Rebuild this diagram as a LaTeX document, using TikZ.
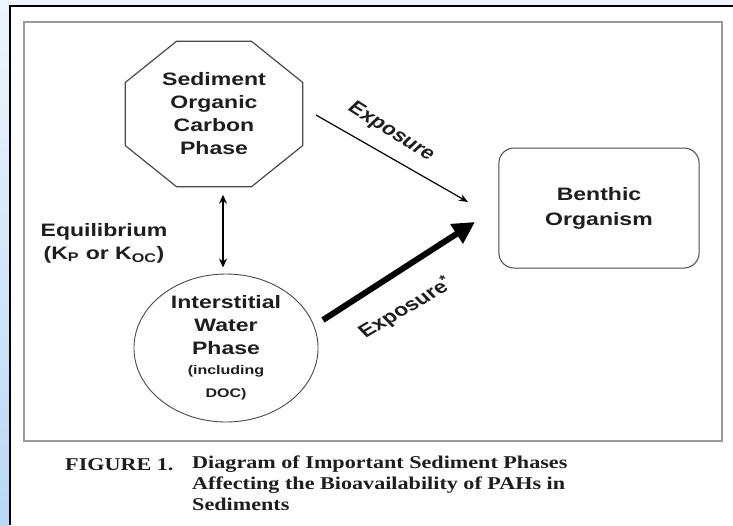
\documentclass[tikz,border=0pt]{standalone}
\usepackage{fontspec}
\usetikzlibrary{arrows.meta,shapes.geometric}
\setmainfont{Liberation Serif}
\newfontfamily\diagfont{Liberation Sans Bold}
\newfontfamily\capfont{Liberation Serif Bold}
\definecolor{bgblue}{HTML}{EEF5FC}
\definecolor{stripblue}{HTML}{B9D8F7}
\definecolor{framegray}{HTML}{9A9A9A}
\definecolor{inkgray}{HTML}{1E1E1E}
\definecolor{shapegray}{HTML}{4A4A4A}

\begin{document}
\begin{tikzpicture}[x=1pt,y=1pt]
\tikzstyle{every node}+=[inner sep=0pt, text=inkgray, xscale=1.28, font=\diagfont\fontsize{18}{23}\selectfont]
\tikzstyle{phase}=[draw=shapegray, line width=1.2pt, align=center]
\tikzstyle{captext}=[xscale=0.961, font=\capfont\fontsize{18}{21}\selectfont]
\useasboundingbox (0,0) rectangle (733,-525);
% page background and frames
\fill [bgblue] (0,0) rectangle (733,-525);
\shade [top color=bgblue, bottom color=stripblue] (0,-6) rectangle (9,-525);
\fill [white] (10,-6) rectangle (733,-525);
\draw [black, line width=2pt] (10,-525) -- (10,-6) -- (733,-6);
\draw [framegray, line width=2.5pt] (24,-22) rectangle (722,-441);
% phases
\node (sed) [align=center, minimum width=138.3pt, minimum height=145pt] at (214,-114)
  {Sediment\\Organic\\Carbon\\Phase};
\draw [draw=shapegray, line width=1.2pt]
  ([xshift=-37.5pt]sed.north) -- ([xshift=37.5pt]sed.north) --
  ([yshift=31.5pt]sed.east) -- ([yshift=-31.5pt]sed.east) --
  ([xshift=37.5pt]sed.south) -- ([xshift=-37.5pt]sed.south) --
  ([yshift=-31.5pt]sed.west) -- ([yshift=31.5pt]sed.west) -- cycle;
\node (iw) [phase, ellipse, line width=0.9pt, minimum width=143.8pt, minimum height=148pt] at (226,-348)
  {Interstitial\\Water\\Phase\\[-3pt]\fontsize{12.5}{15}\selectfont (including\\\fontsize{12.5}{15}\selectfont DOC)};
\node (ben) [phase, rounded corners=15pt, line width=1pt, minimum width=156.3pt, minimum height=120pt] at (599,-208)
  {Benthic\\[2pt]Organism};
\node (eq) [align=center] at (104,-243) {Equilibrium\\(K\textsubscript{P} or K\textsubscript{OC})};
% arrows
\draw [line width=1.6pt, {Stealth[length=9pt,width=8pt]}-{Stealth[length=9pt,width=8pt]}]
  ([xshift=-3pt]iw.north |- sed.south) ++(0,-8) -- ([xshift=-3pt,yshift=6pt]iw.north);
\coordinate (thinA) at (316,-115);
\coordinate (thinB) at (468,-202);
\draw [line width=1.2pt, -{Stealth[length=9pt,width=7pt]}] (thinA) -- (thinB);
\coordinate (thickA) at (323,-320);
\coordinate (thickB) at (475,-222);
\draw [line width=6pt, -{Triangle[length=22pt,width=22pt]}] (thickA) -- (thickB);
\node (expo) [rotate=-39] at (391,-132) {Exposure};
\node (expostar) [rotate=37] at (406,-308) {Exposure\textsuperscript{*}};
% caption
\node (figno) [captext, anchor=west] at (65,-465) {FIGURE 1.};
\node (figtext) [captext, anchor=north west, align=left] at (192,-456)
  {Diagram of Important Sediment Phases\\Affecting the Bioavailability of PAHs in\\Sediments};
\end{tikzpicture}
\end{document}
